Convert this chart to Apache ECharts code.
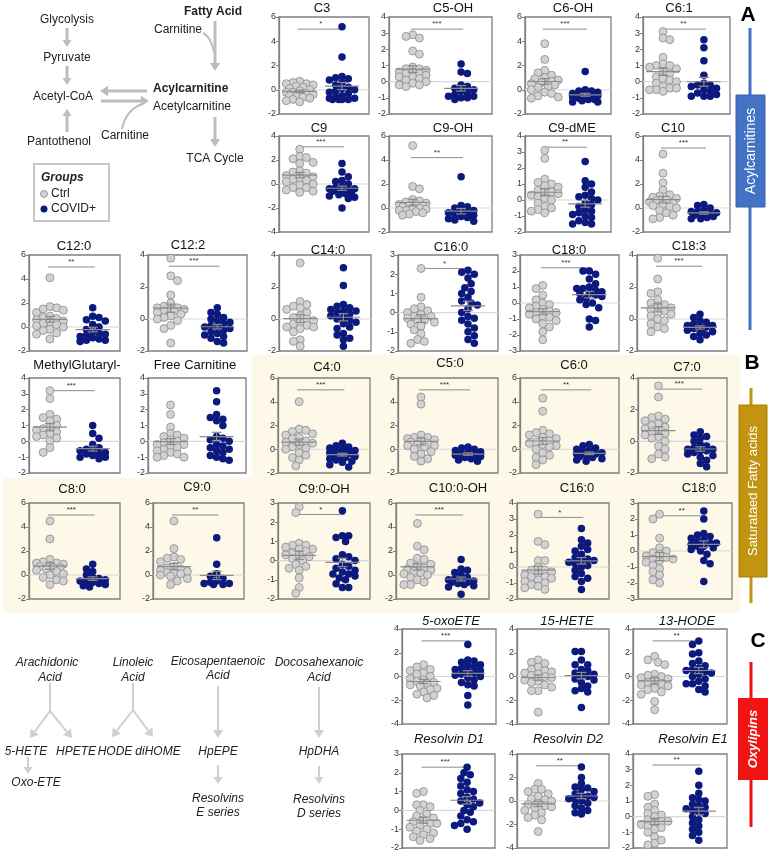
<!DOCTYPE html>
<html><head><meta charset="utf-8">
<script src="https://cdn.jsdelivr.net/npm/echarts@6/dist/echarts.min.js"></script>
<style>html,body{margin:0;padding:0;background:#fff}#c{width:771px;height:857px}</style>
</head><body><div id="c"></div>
<script>
// ---------------- DATA ----------------
const C3_ctrl = [0.7,0.6,0.5,0.5,0.4,0.3,0.2,0.1,0.0,-0.1,-0.2,-0.2,-0.3,-0.4,-0.5,-0.5,-0.6,-0.7,-0.8,-0.9,-1.0];
const C3_cov = [5.2,2.7,1.1,1.0,0.9,0.8,0.6,0.4,0.2,0.1,0.0,-0.1,-0.2,-0.3,-0.5,-0.6,-0.7,-0.8,-0.8,-0.8,-0.8,-0.7];
const C5OH_ctrl = [2.9,2.8,2.7,1.9,1.7,0.9,0.8,0.8,0.7,0.6,0.6,0.5,0.5,0.4,0.3,0.3,0.2,0.1,0.0,-0.1,-0.2,-0.2,-0.3];
const C5OH_cov = [1.1,0.6,0.5,-0.2,-0.3,-0.4,-0.5,-0.6,-0.7,-0.8,-0.9,-0.9,-1.0,-1.0,-1.1];
const C6OH_ctrl = [3.8,2.5,1.6,1.4,1.2,1.0,0.9,0.8,0.7,0.6,0.5,0.4,0.3,0.2,0.0,-0.2,-0.3,-0.5,-0.6,-0.7];
const C6OH_cov = [1.5,0.0,-0.1,-0.1,-0.2,-0.3,-0.3,-0.4,-0.4,-0.5,-0.5,-0.6,-0.6,-0.6,-0.7,-0.8,-0.8,-0.9,-1.0,-1.0];
const C61_ctrl = [3.1,2.7,2.6,1.5,1.1,1.0,1.0,0.9,0.8,0.6,0.5,0.3,0.2,0.1,0.0,-0.1,-0.3,-0.4,-0.4,-0.5,-0.5,-0.6];
const C61_cov = [2.6,2.1,1.3,0.4,-0.1,-0.2,-0.2,-0.3,-0.4,-0.5,-0.6,-0.7,-0.8,-0.9,-0.9,-0.9];
const C9_ctrl = [2.9,2.3,2.2,2.1,1.8,1.7,1.1,1.0,0.9,0.7,0.6,0.5,0.4,0.3,0.2,0.0,-0.1,-0.3,-0.3,-0.5,-0.6,-0.7];
const C9_cov = [1.7,1.0,0.6,0.3,0.2,0.0,-0.2,-0.3,-0.4,-0.4,-0.5,-0.5,-0.6,-0.6,-0.7,-0.8,-0.9,-1.0,-1.1,-1.2,-2.0];
const C9OH_ctrl = [5.2,1.8,1.6,0.7,0.6,0.5,0.4,0.3,0.3,0.2,0.2,0.1,0.0,0.0,-0.1,-0.2,-0.2,-0.3,-0.4,-0.5,-0.6];
const C9OH_cov = [2.6,0.2,0.1,0.0,-0.2,-0.3,-0.4,-0.4,-0.5,-0.6,-0.7,-0.8,-0.9,-1.0,-1.1];
const C9dME_ctrl = [3.1,2.6,1.3,1.1,1.0,0.9,0.8,0.6,0.5,0.5,0.4,0.3,0.2,0.1,0.0,-0.2,-0.4,-0.5,-0.6,-0.7,-0.8];
const C9dME_cov = [2.4,1.2,1.0,0.8,0.5,0.3,0.2,0.1,0.0,-0.2,-0.3,-0.4,-0.6,-0.7,-0.8,-0.9,-1.0,-1.1,-1.3,-1.4,-1.5,-1.5];
const C10_ctrl = [4.5,2.9,2.1,1.5,1.1,1.0,0.9,0.8,0.7,0.6,0.5,0.4,0.3,0.2,0.1,0.0,-0.2,-0.4,-0.6,-0.8,-0.9];
const C10_cov = [0.3,0.2,0.0,-0.2,-0.3,-0.3,-0.4,-0.5,-0.5,-0.6,-0.6,-0.7,-0.8,-0.9,-0.9];
const C120_ctrl = [4.1,1.7,1.6,1.5,1.4,1.2,0.9,0.8,0.7,0.6,0.5,0.4,0.3,0.2,0.1,0.0,-0.2,-0.3,-0.5,-0.6,-1.0];
const C120_cov = [1.6,0.9,0.8,0.6,0.5,0.2,0.0,-0.2,-0.4,-0.5,-0.6,-0.7,-0.8,-0.9,-1.0,-1.1,-1.1,-1.2];
const C122_ctrl = [3.8,2.7,2.4,1.5,1.0,0.8,0.7,0.7,0.6,0.6,0.5,0.5,0.4,0.3,0.2,0.1,0.0,-0.1,-0.4,-0.6,-1.5];
const C122_cov = [0.7,0.4,0.3,0.1,0.0,-0.1,-0.2,-0.3,-0.4,-0.5,-0.5,-0.6,-0.7,-0.8,-0.9,-1.0,-1.1,-1.2,-1.4,-1.5];
const C140_ctrl = [3.5,1.1,0.9,0.8,0.7,0.6,0.4,0.2,0.1,0.0,-0.1,-0.2,-0.3,-0.4,-0.5,-0.5,-0.6,-0.8,-1.3,-1.4,-1.7];
const C140_cov = [3.2,2.1,0.9,0.8,0.7,0.6,0.5,0.5,0.4,0.3,0.2,0.1,0.0,-0.1,-0.2,-0.3,-0.5,-0.6,-0.9,-1.0,-1.2,-1.3,-1.7];
const C160_ctrl = [2.3,0.8,0.3,0.2,0.1,0.0,-0.1,-0.2,-0.2,-0.3,-0.4,-0.4,-0.5,-0.6,-0.7,-0.9,-1.1,-1.4,-1.5,-1.6];
const C160_cov = [2.2,2.1,2.0,1.8,1.5,1.3,1.1,1.0,0.8,0.6,0.5,0.4,0.2,0.0,-0.2,-0.3,-0.4,-0.6,-0.8,-1.0,-1.2,-1.4,-1.6];
const C180_ctrl = [1.1,0.9,0.5,0.2,0.0,-0.1,-0.2,-0.3,-0.4,-0.5,-0.6,-0.6,-0.7,-0.8,-0.9,-1.0,-1.1,-1.3,-1.5,-1.8,-2.3];
const C180_cov = [2.0,2.0,1.8,1.5,1.2,1.0,0.9,0.9,0.8,0.7,0.6,0.6,0.5,0.4,0.3,0.2,0.0,-0.1,-0.3,-1.0,-1.1,-1.5];
const C183_ctrl = [3.8,2.5,1.7,1.6,1.2,1.0,0.9,0.8,0.7,0.6,0.5,0.4,0.3,0.2,0.0,-0.1,-0.3,-0.5,-0.6,-0.8];
const C183_cov = [0.3,0.1,-0.1,-0.2,-0.3,-0.4,-0.4,-0.5,-0.5,-0.6,-0.6,-0.7,-0.8,-0.9,-1.0,-1.1,-1.3];
const MG_ctrl = [3.2,2.7,1.7,1.5,1.4,1.3,1.0,0.9,0.8,0.7,0.6,0.5,0.4,0.3,0.2,0.0,-0.4,-0.7];
const MG_cov = [1.0,0.5,0.2,-0.2,-0.4,-0.5,-0.6,-0.6,-0.7,-0.8,-0.8,-0.9,-1.0,-1.0,-1.1];
const FC_ctrl = [2.3,1.7,0.9,0.5,0.4,0.3,0.2,0.1,0.0,-0.1,-0.2,-0.2,-0.3,-0.4,-0.5,-0.6,-0.7,-0.8,-0.9,-1.0,-1.0];
const FC_cov = [3.2,2.5,1.7,1.5,1.4,1.3,1.0,0.3,0.2,0.1,0.0,-0.2,-0.3,-0.4,-0.5,-0.6,-0.7,-0.9,-1.0,-1.1,-1.2];
const C40_ctrl = [4.0,1.7,1.6,1.5,1.3,1.2,1.0,0.9,0.7,0.6,0.5,0.4,0.2,0.1,0.0,-0.3,-0.5,-0.7,-0.9,-1.4];
const C40_cov = [0.5,0.3,0.2,0.1,0.0,-0.1,-0.2,-0.2,-0.3,-0.4,-0.4,-0.5,-0.6,-0.6,-0.7,-0.8,-0.9,-1.0,-1.1,-1.3,-1.5];
const C50_ctrl = [4.4,3.8,1.2,1.0,1.0,0.9,0.8,0.7,0.6,0.5,0.4,0.3,0.3,0.2,0.0,-0.2,-0.4,-0.6,-0.8,-1.0];
const C50_cov = [0.2,0.1,0.0,-0.1,-0.2,-0.3,-0.4,-0.5,-0.5,-0.6,-0.7,-0.8,-0.9,-1.0];
const C60_ctrl = [4.3,3.2,1.6,1.4,1.3,1.2,1.0,0.9,0.7,0.6,0.5,0.4,0.3,0.2,0.0,-0.3,-0.5,-0.7,-0.9,-1.3];
const C60_cov = [0.4,0.3,0.1,0.0,-0.1,-0.2,-0.3,-0.4,-0.4,-0.5,-0.6,-0.7,-0.8,-0.9,-1.0];
const C70_ctrl = [3.5,2.8,1.6,1.5,1.4,1.3,1.1,1.0,0.9,0.8,0.7,0.6,0.5,0.4,0.3,0.2,0.0,-0.3,-0.5,-0.8,-1.0,-1.1];
const C70_cov = [0.6,0.4,0.3,0.2,0.0,-0.2,-0.3,-0.4,-0.5,-0.5,-0.6,-0.6,-0.7,-0.8,-0.9,-1.0,-1.2,-1.4,-1.6];
const C80_ctrl = [4.5,3.0,1.3,1.1,1.0,1.0,0.9,0.8,0.7,0.6,0.6,0.5,0.4,0.3,0.1,0.0,-0.2,-0.4,-0.5,-0.8];
const C80_cov = [0.9,0.5,0.3,0.0,-0.2,-0.3,-0.4,-0.5,-0.5,-0.6,-0.7,-0.8,-0.9,-1.0];
const C90_ctrl = [4.5,2.2,1.5,1.4,1.3,1.1,0.7,0.6,0.5,0.4,0.3,0.2,0.2,0.1,0.0,-0.1,-0.3,-0.5,-0.8];
const C90_cov = [3.1,0.9,0.1,-0.1,-0.3,-0.5,-0.6,-0.7,-0.7,-0.8,-0.8];
const C90OH_ctrl = [2.8,2.5,0.9,0.8,0.8,0.7,0.6,0.6,0.5,0.4,0.3,0.3,0.2,0.1,0.0,-0.2,-0.3,-0.4,-0.5,-0.9,-1.4,-1.7];
const C90OH_cov = [2.6,1.3,1.3,1.2,1.0,0.3,0.2,0.1,0.0,-0.2,-0.3,-0.4,-0.5,-0.6,-0.7,-0.7,-0.8,-0.9,-1.0,-1.2,-1.4,-1.4];
const C100OH_ctrl = [4.3,2.4,2.1,1.4,1.3,1.0,0.9,0.7,0.6,0.5,0.4,0.3,0.2,0.1,0.0,-0.2,-0.4,-0.6,-0.8,-0.8];
const C100OH_cov = [1.3,0.5,0.4,0.2,0.0,-0.2,-0.3,-0.4,-0.5,-0.5,-0.6,-0.6,-0.7,-0.8,-0.9,-1.0,-1.6];
const B160_ctrl = [3.3,1.6,1.4,0.4,0.4,0.0,-0.2,-0.2,-0.3,-0.4,-0.5,-0.6,-0.6,-0.7,-0.8,-0.9,-1.0,-1.1,-1.2,-1.3,-1.4];
const B160_cov = [2.4,1.7,1.5,1.3,1.1,1.0,0.8,0.6,0.5,0.4,0.4,0.3,0.2,0.1,0.0,-0.2,-0.4,-0.6,-0.7,-0.9,-1.4];
const B180_ctrl = [2.3,2.0,0.8,0.2,0.0,-0.1,-0.2,-0.3,-0.4,-0.5,-0.5,-0.6,-0.7,-0.9,-1.1,-1.3,-1.5,-1.8,-2.0];
const B180_cov = [2.5,2.0,1.1,1.0,0.9,0.8,0.7,0.6,0.5,0.5,0.4,0.3,0.3,0.2,0.1,0.0,-0.2,-0.6,-0.8,-1.9];
const OXO_ctrl = [1.0,0.8,0.6,0.5,0.3,0.2,0.0,-0.2,-0.3,-0.4,-0.5,-0.6,-0.7,-0.8,-1.0,-1.1,-1.3,-1.5,-1.6,-1.8];
const OXO_cov = [2.7,1.4,1.3,1.2,1.0,0.9,0.8,0.7,0.6,0.5,0.4,0.3,0.2,0.1,0.0,-0.1,-0.3,-0.5,-0.7,-0.8,-1.6,-2.4];
const HETE_ctrl = [1.4,1.2,1.1,0.8,0.6,0.5,0.4,0.3,0.2,0.1,0.0,-0.1,-0.3,-0.4,-0.5,-0.7,-0.9,-1.2,-1.2,-3.0];
const HETE_cov = [2.1,2.1,1.4,1.0,1.0,0.6,0.5,0.3,0.2,0.1,0.0,-0.2,-0.3,-0.5,-0.8,-1.0,-1.2,-1.3,-2.6];
const HODE_ctrl = [1.7,1.4,1.2,1.0,0.2,0.1,0.0,-0.1,-0.2,-0.3,-0.5,-0.6,-0.7,-0.8,-1.0,-1.1,-1.3,-1.5,-2.1,-2.8];
const HODE_cov = [3.0,2.7,2.0,1.9,1.3,1.1,0.9,0.7,0.6,0.5,0.4,0.3,0.2,0.0,-0.2,-0.4,-0.6,-0.6,-0.8,-1.1,-1.3];
const RD1_ctrl = [1.0,0.9,0.3,0.3,0.2,0.0,-0.2,-0.3,-0.4,-0.5,-0.6,-0.7,-0.7,-0.8,-0.9,-1.0,-1.1,-1.2,-1.3,-1.4,-1.5,-1.6];
const RD1_cov = [2.3,2.0,1.9,1.7,1.5,1.3,1.1,1.0,0.9,0.7,0.6,0.5,0.4,0.3,0.2,0.0,-0.1,-0.3,-0.5,-0.6,-0.7,-0.8,-1.0];
const RD2_ctrl = [1.5,1.0,1.0,0.8,0.6,0.4,0.2,0.1,0.0,-0.2,-0.3,-0.4,-0.5,-0.6,-0.8,-1.0,-1.2,-1.4,-1.6,-2.6];
const RD2_cov = [2.9,2.0,1.5,1.2,1.1,1.0,0.8,0.6,0.5,0.4,0.3,0.2,0.1,0.0,-0.2,-0.4,-0.6,-0.8,-1.0,-1.1];
const RE1_ctrl = [1.4,1.3,0.8,0.6,0.4,0.2,0.1,0.0,-0.2,-0.3,-0.3,-0.4,-0.5,-0.6,-0.7,-0.8,-1.0,-1.3,-1.5,-1.7,-1.8];
const RE1_cov = [2.9,2.0,1.5,1.2,1.1,1.0,0.8,0.7,0.6,0.5,0.4,0.3,0.2,0.0,-0.2,-0.4,-0.6,-0.8,-1.0,-1.2,-1.5];

const titles = ['C3','C5-OH','C6-OH','C6:1','C9','C9-OH','C9-dME','C10',
  'C12:0','C12:2','C14:0','C16:0','C18:0','C18:3',
  'MethylGlutaryl-','Free Carnitine','C4:0','C5:0','C6:0','C7:0',
  'C8:0','C9:0','C9:0-OH','C10:0-OH','C16:0','C18:0',
  '5-oxoETE','15-HETE','13-HODE','Resolvin D1','Resolvin D2','Resolvin E1'];
const ctrlSets = [C3_ctrl,C5OH_ctrl,C6OH_ctrl,C61_ctrl,C9_ctrl,C9OH_ctrl,C9dME_ctrl,C10_ctrl,
  C120_ctrl,C122_ctrl,C140_ctrl,C160_ctrl,C180_ctrl,C183_ctrl,
  MG_ctrl,FC_ctrl,C40_ctrl,C50_ctrl,C60_ctrl,C70_ctrl,
  C80_ctrl,C90_ctrl,C90OH_ctrl,C100OH_ctrl,B160_ctrl,B180_ctrl,
  OXO_ctrl,HETE_ctrl,HODE_ctrl,RD1_ctrl,RD2_ctrl,RE1_ctrl];
const covSets = [C3_cov,C5OH_cov,C6OH_cov,C61_cov,C9_cov,C9OH_cov,C9dME_cov,C10_cov,
  C120_cov,C122_cov,C140_cov,C160_cov,C180_cov,C183_cov,
  MG_cov,FC_cov,C40_cov,C50_cov,C60_cov,C70_cov,
  C80_cov,C90_cov,C90OH_cov,C100OH_cov,B160_cov,B180_cov,
  OXO_cov,HETE_cov,HODE_cov,RD1_cov,RD2_cov,RE1_cov];
// y axis: [min, max, interval]
const yTicks = [[-2,6,2],[-2,4,1],[-2,6,2],[-2,4,1],[-4,4,2],[-2,6,2],[-2,4,1],[-2,6,2],
  [-2,6,2],[-2,4,2],[-2,4,2],[-2,3,1],[-3,3,1],[-2,4,2],
  [-2,4,1],[-2,4,1],[-2,6,2],[-2,6,2],[-2,6,2],[-2,4,2],
  [-2,6,2],[-2,6,2],[-2,3,1],[-2,6,2],[-2,4,1],[-3,3,1],
  [-4,4,2],[-4,4,2],[-4,4,2],[-2,3,1],[-4,4,2],[-2,4,1]];
const sigStars = ['*','***','***','**','***','**','**','***',
  '**','***','','*','***','***',
  '***','','***','***','**','***',
  '***','**','*','***','*','**',
  '***','','**','***','**','**'];
const sigLevel = [5,3.25,5,3.25,3.1,4.2,3.3,5, 5,3.3,0,2.3,2.2,3.3, 3.2,0,5,5,5,3.3, 5,5,2.4,5,3.1,2.2, 3,0,3,2.3,3,3.3];

// ---------------- LAYOUT (px) ----------------
// [left, top, right, bottom, titleX, titleY]
const layout = [
  [279,17,369,114,322,8],[389,17,492,114,453,8],[525,17,611,114,573,8],[643,17,730,114,679,8],
  [279,136,369,232,319,128],[389,136,492,232,453,128],[525,136,611,232,572,128],[643,136,730,232,673,128],
  [29,255,120,351,74,246],[148,255,247,351,188,245],[279,255,371,351,328,250],[398,255,498,351,451,247],[520,255,619,351,569,250],[637,255,727,351,689,246],
  [29,378,120,473,77,365],[148,378,246,473,195,365],[278,378,370,473,327,367],[398,378,498,473,450,363],[520,378,619,473,574,365],[638,378,727,473,687,367],
  [29,503,120,599,72,489],[153,503,244,599,197,487],[278,503,370,599,324,489],[396,503,489,599,458,488],[517,503,609,599,577,488],[638,503,732,599,699,488],
  [402,629,496,724,451,621],[517,629,609,724,567,621],[633,629,727,724,687,621],
  [402,754,495,848,449,739],[517,754,609,848,568,739],[633,754,727,848,693,739]
];
const italicFrom = 26;

const FONT = "'Liberation Sans', Arial, Helvetica, sans-serif";
const CTRL_FILL = '#d2d2d2', CTRL_EDGE = '#8a8a8a', COV_FILL = '#0c1a7e';

// compact beeswarm: offsets in px, limited half-width, overlap allowed
function swarm(vals, center, ppu, d, halfW) {
  const order = vals.map((v, i) => i).sort((a, b) => vals[b] - vals[a]);
  const placed = [], out = new Array(vals.length);
  const step = d * 0.42;
  const cands = [0];
  for (let j = 1; j * step <= halfW; j++) { cands.push(j * step, -j * step); }
  const thr = d * 0.78;
  order.forEach((i, k) => {
    const y = vals[i] * ppu;
    let best = null, bestScore = -1;
    const list = (k % 2) ? cands.map(c => -c) : cands;
    for (const c of list) {
      let md = Infinity;
      placed.forEach(p => { md = Math.min(md, Math.hypot(p.x - c, p.y - y)); });
      if (md >= thr) { best = c; break; }
      if (md > bestScore) { bestScore = md; best = c; }
    }
    placed.push({ x: best, y });
    out[i] = [center + best, vals[i]];
  });
  return out;
}
function meanOf(a) { return a.reduce((s, v) => s + v, 0) / a.length; }
function semOf(a) { const m = meanOf(a); const v = a.reduce((s, x) => s + (x - m) * (x - m), 0) / (a.length - 1); return Math.sqrt(v / a.length); }

const grids = [], xAxes = [], yAxes = [], series = [], elements = [];

titles.forEach((t, i) => {
  const [l, tp, r, b, tx, ty] = layout[i];
  const W = r - l, H = b - tp;
  const [ymin, ymax, iv] = yTicks[i];
  grids.push({ left: l, top: tp, width: W, height: H, show: true, borderColor: '#7f7f7f', borderWidth: 1.3, backgroundColor: 'transparent' });
  xAxes.push({ gridIndex: i, type: 'value', min: 0, max: W, show: false });
  yAxes.push({ gridIndex: i, type: 'value', min: ymin, max: ymax, interval: iv,
    axisLine: { show: true, onZero: false, lineStyle: { color: '#7f7f7f', width: 1.3 } },
    axisTick: { show: true, length: 3, lineStyle: { color: '#7f7f7f' } },
    axisLabel: { fontSize: 9, color: '#333', margin: 3, fontFamily: FONT },
    splitLine: { show: false } });
  const ppu = H / (ymax - ymin);
  const cxC = W * 0.23, cxV = W * 0.70;
  const star = sigStars[i], lvl = sigLevel[i];
  series.push({ type: 'custom', xAxisIndex: i, yAxisIndex: i, z: 1, silent: true, clip: false,
    data: [[0, 0]],
    renderItem: (params, api) => {
      const a = api.coord([0, 0]), bb = api.coord([W, 0]);
      const ch = [{ type: 'line', shape: { x1: a[0], y1: a[1], x2: bb[0], y2: bb[1] }, style: { stroke: '#d8d8d8', lineWidth: 1.2 } }];
      if (star) {
        const p1 = api.coord([cxC, lvl]), p2 = api.coord([cxV, lvl]);
        ch.push({ type: 'line', shape: { x1: p1[0] - 2, y1: p1[1], x2: p2[0] + 2, y2: p2[1] }, style: { stroke: '#8c8c8c', lineWidth: 1 } });
        ch.push({ type: 'text', x: (p1[0] + p2[0]) / 2, y: p1[1] - 1, style: { text: star, textAlign: 'center', textVerticalAlign: 'bottom', fontSize: 8, fontFamily: FONT, fill: '#333' } });
      }
      return { type: 'group', children: ch };
    } });
  series.push({ type: 'scatter', xAxisIndex: i, yAxisIndex: i, z: 2, silent: true,
    data: swarm(ctrlSets[i], cxC, ppu, 8, 15), symbolSize: 8,
    itemStyle: { color: CTRL_FILL, borderColor: CTRL_EDGE, borderWidth: 0.8, opacity: 1 } });
  series.push({ type: 'scatter', xAxisIndex: i, yAxisIndex: i, z: 2, silent: true,
    data: swarm(covSets[i], cxV, ppu, 7.5, 13), symbolSize: 7.5,
    itemStyle: { color: COV_FILL, opacity: 1 } });
  series.push({ type: 'custom', xAxisIndex: i, yAxisIndex: i, z: 3, silent: true, clip: false,
    data: [[cxC, meanOf(ctrlSets[i]), semOf(ctrlSets[i])], [cxV, meanOf(covSets[i]), semOf(covSets[i])]],
    encode: { x: 0, y: 1 },
    renderItem: (params, api) => {
      const x = api.value(0), m = api.value(1), s = api.value(2);
      const p = api.coord([x, m]), pt = api.coord([x, m + s]), pb = api.coord([x, m - s]);
      const st = { stroke: '#8a8a8a', lineWidth: 1.2 };
      return { type: 'group', children: [
        { type: 'line', shape: { x1: p[0] - 17, y1: p[1], x2: p[0] + 17, y2: p[1] }, style: st },
        { type: 'line', shape: { x1: p[0], y1: pt[1], x2: p[0], y2: pb[1] }, style: st },
        { type: 'line', shape: { x1: p[0] - 5, y1: pt[1], x2: p[0] + 5, y2: pt[1] }, style: st },
        { type: 'line', shape: { x1: p[0] - 5, y1: pb[1], x2: p[0] + 5, y2: pb[1] }, style: st }
      ] };
    } });
  elements.push({ type: 'text', x: tx, y: ty, z: 5, style: { text: t, fontSize: 13, fontFamily: FONT,
    fontStyle: i >= italicFrom ? 'italic' : 'normal', fill: '#111', textAlign: 'center', textVerticalAlign: 'middle' } });
});

// ---------- decorations ----------
function txt(x, y, s, o) {
  o = o || {};
  return { type: 'text', x, y, z: 5, style: { text: s, fontSize: o.size || 12, fontFamily: FONT,
    fontWeight: o.bold ? 'bold' : 'normal', fontStyle: o.italic ? 'italic' : 'normal',
    fill: o.color || '#222', textAlign: o.align || 'center', textVerticalAlign: 'middle' }, rotation: o.rot || 0 };
}
function arrow(x1, y1, x2, y2, color, w, hs) {
  const ang = Math.atan2(y2 - y1, x2 - x1);
  const bx = x2 - hs * Math.cos(ang), by = y2 - hs * Math.sin(ang);
  const px = -Math.sin(ang) * hs * 0.65, py = Math.cos(ang) * hs * 0.65;
  return [
    { type: 'line', z: 4, shape: { x1, y1, x2: bx, y2: by }, style: { stroke: color, lineWidth: w } },
    { type: 'polygon', z: 4, shape: { points: [[x2, y2], [bx + px, by + py], [bx - px, by - py]] }, style: { fill: color } }
  ];
}
// beige region B
elements.push({ type: 'polygon', z: -10, shape: { points: [[252, 355], [740, 355], [740, 613], [3, 613], [3, 478], [252, 478]] }, style: { fill: '#fdf8e7' } });

// pathway A
const G = '#bdbdbd';
elements.push(txt(67, 20, 'Glycolysis'), txt(67, 58, 'Pyruvate'), txt(63, 97, 'Acetyl-CoA'), txt(59, 142, 'Pantothenol'));
elements.push(txt(213, 12, 'Fatty Acid', { bold: true }), txt(178, 30, 'Carnitine'));
elements.push(txt(153, 89, 'Acylcarnitine', { bold: true, align: 'left' }), txt(153, 107, 'Acetylcarnitine', { align: 'left' }));
elements.push(txt(125, 136, 'Carnitine'), txt(215, 159, 'TCA Cycle'));
elements.push(...arrow(67, 28, 67, 47, G, 3, 7), ...arrow(67, 66, 67, 85, G, 3, 7), ...arrow(67, 132, 67, 109, G, 3, 7));
elements.push(...arrow(215, 21, 215, 71, G, 3, 8), ...arrow(147, 91, 100, 91, G, 3, 8), ...arrow(101, 101, 149, 101, G, 3, 8), ...arrow(215, 117, 215, 147, G, 3, 8));
elements.push({ type: 'bezierCurve', z: 4, shape: { x1: 203, y1: 33, x2: 214, y2: 52, cpx1: 211, cpy1: 37 }, style: { stroke: G, lineWidth: 2, fill: null } });
elements.push({ type: 'bezierCurve', z: 4, shape: { x1: 122, y1: 129, x2: 142, y2: 104, cpx1: 126, cpy1: 110 }, style: { stroke: G, lineWidth: 2, fill: null } });
// legend
elements.push({ type: 'rect', z: 4, shape: { x: 34, y: 164, width: 75, height: 57 }, style: { fill: '#fff', stroke: '#c8c8c8', lineWidth: 2 } });
elements.push(txt(41, 178, 'Groups', { bold: true, italic: true, align: 'left' }));
elements.push({ type: 'circle', z: 5, shape: { cx: 44, cy: 194, r: 3.5 }, style: { fill: CTRL_FILL, stroke: CTRL_EDGE, lineWidth: 0.8 } });
elements.push({ type: 'circle', z: 5, shape: { cx: 44, cy: 209, r: 3.5 }, style: { fill: COV_FILL } });
elements.push(txt(51, 194, 'Ctrl', { align: 'left' }), txt(51, 209, 'COVID+', { align: 'left' }));

// pathway C
const L = '#d0d0d0';
const it = { italic: true };
elements.push(txt(47, 663, 'Arachidonic', it), txt(50, 678, 'Acid', it), txt(133, 663, 'Linoleic', it), txt(133, 678, 'Acid', it));
elements.push(txt(218, 662, 'Eicosapentaenoic', it), txt(218, 676, 'Acid', it), txt(319, 663, 'Docosahexanoic', it), txt(319, 678, 'Acid', it));
elements.push(txt(26, 752, '5-HETE', it), txt(76, 752, 'HPETE', it), txt(115, 752, 'HODE', it), txt(158, 752, 'diHOME', it), txt(218, 752, 'HpEPE', it), txt(319, 752, 'HpDHA', it));
elements.push(txt(36, 783, 'Oxo-ETE', it), txt(218, 799, 'Resolvins', it), txt(218, 813, 'E series', it), txt(319, 800, 'Resolvins', it), txt(319, 814, 'D series', it));
elements.push({ type: 'line', z: 4, shape: { x1: 50, y1: 683, x2: 50, y2: 711 }, style: { stroke: L, lineWidth: 2 } });
elements.push(...arrow(50, 711, 30, 738, L, 2, 8), ...arrow(50, 711, 72, 738, L, 2, 8));
elements.push({ type: 'line', z: 4, shape: { x1: 133, y1: 683, x2: 133, y2: 710 }, style: { stroke: L, lineWidth: 2 } });
elements.push(...arrow(133, 710, 112, 737, L, 2, 8), ...arrow(133, 710, 153, 737, L, 2, 8));
elements.push(...arrow(218, 686, 218, 738, L, 2, 8), ...arrow(319, 687, 319, 738, L, 2, 8));
elements.push(...arrow(28, 757, 28, 774, L, 2, 7), ...arrow(218, 765, 218, 784, L, 2, 7), ...arrow(319, 766, 319, 784, L, 2, 7));

// side labels
elements.push(txt(748, 15, 'A', { bold: true, size: 21, color: '#000' }));
elements.push({ type: 'line', z: 4, shape: { x1: 750, y1: 28, x2: 750, y2: 330 }, style: { stroke: '#4472c4', lineWidth: 3 } });
elements.push({ type: 'rect', z: 4, shape: { x: 736, y: 95, width: 29, height: 112 }, style: { fill: '#4472c4', stroke: '#3a62ad', lineWidth: 1 } });
elements.push(txt(751, 151, 'Acylcarnitines', { color: '#fff', size: 14, rot: Math.PI / 2 }));
elements.push(txt(752, 363, 'B', { bold: true, size: 21, color: '#000' }));
elements.push({ type: 'line', z: 4, shape: { x1: 751, y1: 388, x2: 751, y2: 603 }, style: { stroke: '#c39410', lineWidth: 3 } });
elements.push({ type: 'rect', z: 4, shape: { x: 739, y: 405, width: 28, height: 172 }, style: { fill: '#c39410', stroke: '#a87e08', lineWidth: 1 } });
elements.push(txt(753, 491, 'Saturataed Fatty acids', { color: '#fff', size: 13, rot: Math.PI / 2 }));
elements.push(txt(758, 641, 'C', { bold: true, size: 21, color: '#000' }));
elements.push({ type: 'line', z: 4, shape: { x1: 751, y1: 662, x2: 751, y2: 827 }, style: { stroke: '#ee1111', lineWidth: 3 } });
elements.push({ type: 'rect', z: 4, shape: { x: 738, y: 698, width: 30, height: 82 }, style: { fill: '#f01414' } });
elements.push(txt(753, 739, 'Oxylipins', { color: '#fff', size: 13, bold: true, italic: true, rot: Math.PI / 2 }));

const chart = echarts.init(document.getElementById('c'), null, { renderer: 'canvas', width: 771, height: 857 });
chart.setOption({
  animation: false,
  backgroundColor: '#fff',
  grid: grids, xAxis: xAxes, yAxis: yAxes, series: series,
  graphic: { elements: elements }
});
</script></body></html>
